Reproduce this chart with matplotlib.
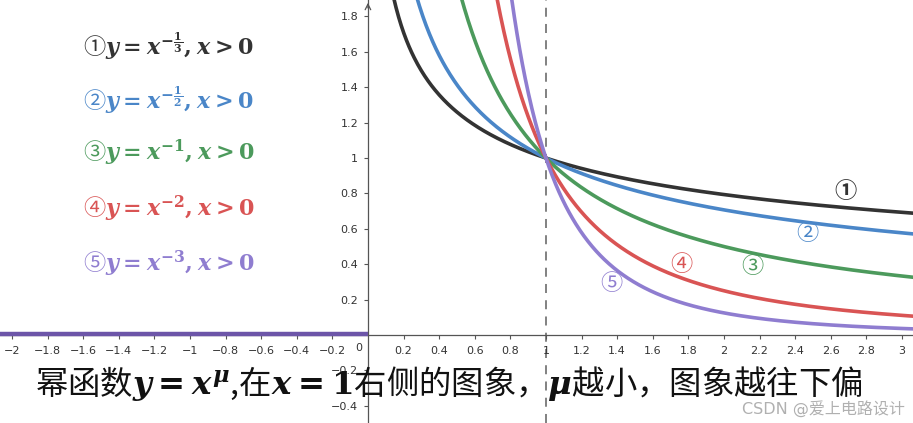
import numpy as np
import matplotlib
matplotlib.use("Agg")
import matplotlib.pyplot as plt

plt.rcParams["font.family"] = ["DejaVu Sans", "Noto Sans CJK SC"]
plt.rcParams["mathtext.fontset"] = "custom"
plt.rcParams["mathtext.rm"] = "DejaVu Serif:bold"
plt.rcParams["mathtext.it"] = "DejaVu Serif:italic:bold"
plt.rcParams["mathtext.bf"] = "DejaVu Serif:bold"

# exponents of y = x^mu
mus = [-1 / 3, -1 / 2, -1, -2, -3]
colors = ["#333333", "#4a86c8", "#4c9a5c", "#d95454", "#8f7dd0"]
legend_labels = [
    r"①$y = x^{-\frac{1}{3}}, x > 0$",
    r"②$y = x^{-\frac{1}{2}}, x > 0$",
    r"③$y = x^{-1}, x > 0$",
    r"④$y = x^{-2}, x > 0$",
    r"⑤$y = x^{-3}, x > 0$",
]
marks = ["①", "②", "③", "④", "⑤"]
mark_x = [2.68, 2.47, 2.16, 1.76, 1.37]
mark_y = [0.81, 0.576, 0.39, 0.40, 0.29]

x_ticks = [-2, -1.8, -1.6, -1.4, -1.2, -1, -0.8, -0.6, -0.4, -0.2,
           0.2, 0.4, 0.6, 0.8, 1, 1.2, 1.4, 1.6, 1.8, 2, 2.2, 2.4, 2.6, 2.8, 3]
y_ticks = [-0.4, -0.2, 0.2, 0.4, 0.6, 0.8, 1, 1.2, 1.4, 1.6, 1.8]

# purple stroke lying on the negative x axis
neg_x = [-2.1, 0.0]
neg_y = [0.006, 0.006]

xmin, xmax = -2.067, 3.062
ymin, ymax = -0.497, 1.893

fig = plt.figure(figsize=(9.13, 4.23), dpi=100)
ax = fig.add_axes([0, 0, 1, 1])
ax.set_xlim(xmin, xmax)
ax.set_ylim(ymin, ymax)

for s in ["top", "right"]:
    ax.spines[s].set_visible(False)
for s in ["left", "bottom"]:
    ax.spines[s].set_position("zero")
    ax.spines[s].set_color("#555555")
    ax.spines[s].set_linewidth(0.9)

ax.set_xticks(x_ticks)
ax.set_yticks(y_ticks)
ax.set_xticklabels([f"{t:g}".replace("-", "\u2212") for t in x_ticks])
ax.set_yticklabels([f"{t:g}".replace("-", "\u2212") for t in y_ticks])
ax.tick_params(axis="both", length=3, width=0.8, color="#555555",
               labelsize=8, labelcolor="#333333", direction="out")
ax.tick_params(axis="x", pad=5)
ax.tick_params(axis="y", pad=4)
ax.text(-0.03, -0.075, "0", fontsize=8, color="#333333", ha="right", va="center")

# arrow on y axis
ax.annotate("", xy=(0, ymax), xytext=(0, ymax - 0.06),
            arrowprops=dict(arrowstyle="->", color="#555555", lw=0.9))

ax.plot(neg_x, neg_y, color="#6c55a8", lw=3.2, solid_capstyle="butt", zorder=3)

ax.axvline(1, color="#777777", lw=1.3, ls=(0, (5, 4)), zorder=1)

for mu, c in zip(mus, colors):
    x0 = ymax ** (1 / mu) * 0.97
    xs = np.linspace(x0, xmax, 600)
    ax.plot(xs, xs ** mu, color=c, lw=2.6, zorder=4)

for m, mx, my, c in zip(marks, mark_x, mark_y, colors):
    ax.text(mx, my, m, color=c, fontsize=16, ha="center", va="center",
            fontweight="bold" if c == colors[0] else "normal",
            family=["Noto Sans CJK SC", "DejaVu Sans"])

leg_y = [47, 101, 153, 209, 264]
for lab, py, c in zip(legend_labels, leg_y, colors):
    fig.text(83 / 913, 1 - py / 423, lab, color=c, fontsize=16, ha="left", va="center",
             family=["Noto Sans CJK SC", "DejaVu Sans"])

fig.text(35 / 913, 1 - 383 / 423,
         r"幂函数$y = x^{\mu}$,在$x = 1$右侧的图象，$\mu$越小，图象越往下偏",
         fontsize=23.3, color="#111111", ha="left", va="center",
         family=["Noto Sans CJK SC", "DejaVu Sans"])

fig.text(905 / 913, 1 - 409 / 423, "CSDN @爱上电路设计", fontsize=11.5,
         color="#b0b0b0", ha="right", va="center",
         family=["DejaVu Sans", "Noto Sans CJK SC"])

fig.savefig("out.png", dpi=100)
